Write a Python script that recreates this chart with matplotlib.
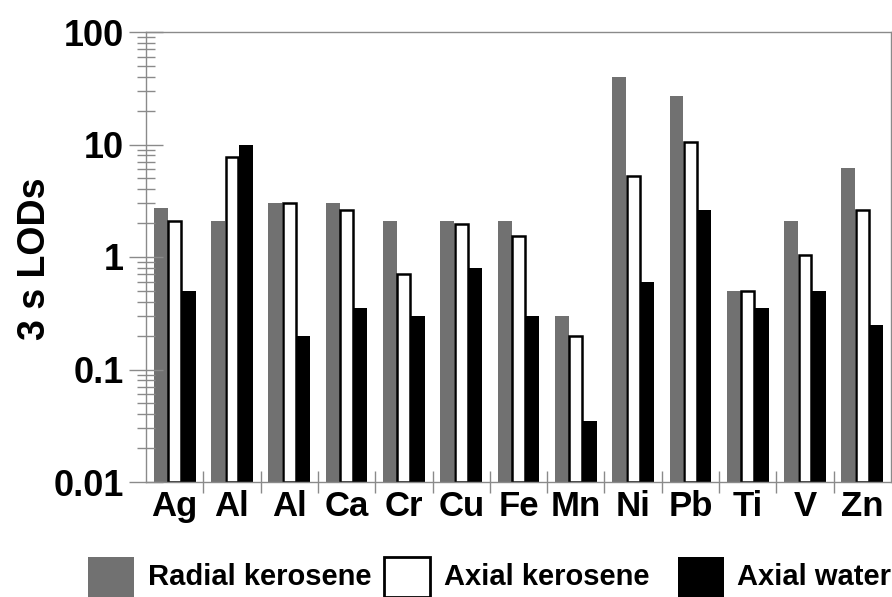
import matplotlib
matplotlib.use('Agg')
import matplotlib.pyplot as plt
import numpy as np
from matplotlib.patches import Rectangle

plt.rcParams['font.family'] = ['Liberation Sans', 'DejaVu Sans']
plt.rcParams['font.weight'] = 'bold'

elements = ['Ag', 'Al', 'Al', 'Ca', 'Cr', 'Cu', 'Fe', 'Mn', 'Ni', 'Pb', 'Ti', 'V', 'Zn']
radialKerosene = [2.7, 2.1, 3.0, 3.0, 2.1, 2.1, 2.1, 0.3, 40, 27, 0.5, 2.1, 6.2]
axialKerosene = [2.1, 7.8, 3.0, 2.6, 0.7, 1.95, 1.55, 0.2, 5.3, 10.5, 0.5, 1.05, 2.6]
axialWater = [0.5, 10, 0.2, 0.35, 0.3, 0.8, 0.3, 0.035, 0.6, 2.6, 0.35, 0.5, 0.25]
yTicks = [0.01, 0.1, 1, 10, 100]
yTickLabels = ['0.01', '0.1', '1', '10', '100']
legendLabels = ['Radial kerosene', 'Axial kerosene', 'Axial water']

grey = '#717171'
axisGrey = '#8a8a8a'

fig = plt.figure(figsize=(8.92, 5.97), dpi=100)
ax = fig.add_axes([146/892, 1 - 482/597, 745/892, 450/597])

x = np.arange(len(elements))
w = 0.243
base = 0.01
ax.bar(x - w, np.array(radialKerosene) - base, w, bottom=base, color=grey, linewidth=0)
ax.bar(x, np.array(axialKerosene) - base, w * 0.92, bottom=base, color='white',
       edgecolor='black', linewidth=1.8)
ax.bar(x + w, np.array(axialWater) - base, w, bottom=base, color='black', linewidth=0)

ax.set_yscale('log')
ax.set_ylim(0.01, 100)
ax.set_xlim(-0.5, len(elements) - 0.5)
ax.set_yticks(yTicks)
ax.set_yticklabels(yTickLabels)
ax.set_xticks(x)
ax.set_xticklabels(elements)
ax.set_xticks(x[:-1] + 0.5, minor=True)

for s in ax.spines.values():
    s.set_color(axisGrey)
    s.set_linewidth(1.0)

ax.tick_params(axis='y', which='major', direction='inout', length=24, width=1,
               color=axisGrey, labelsize=26, pad=4)
ax.tick_params(axis='y', which='minor', direction='inout', length=13, width=1,
               color=axisGrey)
ax.tick_params(axis='x', which='major', length=0, labelsize=25, pad=6)
ax.tick_params(axis='x', which='minor', direction='inout', length=16, width=1,
               color=axisGrey)

ax.set_ylabel('3 s LODs', fontsize=27, fontweight='bold')
ax.yaxis.set_label_coords(-0.125, 0.495)

# legend drawn by hand along the bottom
boxes = [(88, grey, 'none'), (384, 'white', 'black'), (678, 'black', 'none')]
textX = [148, 444, 737]
for (bx, fc, ec), tx, lab in zip(boxes, textX, legendLabels):
    fig.patches.append(Rectangle((bx/892, 0), 46/892, 40/597, transform=fig.transFigure,
                                 facecolor=fc, edgecolor=ec, linewidth=2))
    fig.text(tx/892, 1 - 577/597, lab, fontsize=21, fontweight='bold', va='center', ha='left')

fig.savefig('out.png', dpi=100)
